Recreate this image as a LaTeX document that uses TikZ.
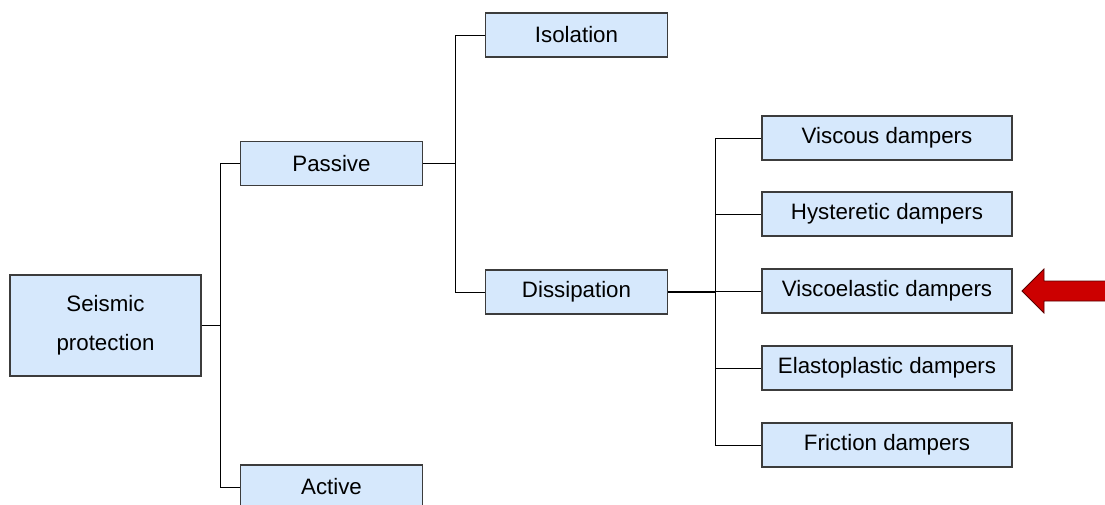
\documentclass[tikz,border=0pt]{standalone}
\usepackage{fontspec}
\setmainfont{Liberation Sans}
\definecolor{boxfill}{RGB}{214,232,252}
\definecolor{boxline}{RGB}{60,60,60}
\definecolor{arrred}{RGB}{204,0,0}
\definecolor{arrline}{RGB}{90,0,0}
\begin{document}
\begin{tikzpicture}[x=1pt,y=-1pt,
  box/.style={draw=boxline,line width=1.1pt,fill=boxfill,rectangle,inner sep=0pt,
    font=\fontsize{22.3}{39}\selectfont,align=center},
  small/.style={box,minimum width=182pt,minimum height=44pt},
  wide/.style={box,minimum width=250pt,minimum height=44pt},
  link/.style={draw=black,line width=0.9pt}]
\clip (0,0) rectangle (1105,504);
\fill[white] (0,0) rectangle (1105,504);
\node[box,minimum width=191pt,minimum height=101pt] (seis) at (105.5,325.5) {Seismic\\protection};
\node[small] (pas) at (331.5,163.5) {Passive};
\node[small] (act) at (331.5,487) {Active};
\node[small] (iso) at (576.5,35) {Isolation};
\node[small] (dis) at (576.5,292) {Dissipation};
\node[wide] (vis) at (887,138) {Viscous dampers};
\node[wide] (hys) at (887,214) {Hysteretic dampers};
\node[wide] (vel) at (887,291) {Viscoelastic dampers};
\node[wide] (ela) at (887,368) {Elastoplastic dampers};
\node[wide] (fri) at (887,445) {Friction dampers};
\coordinate (j1) at (220,325.5);
\coordinate (j2) at (455,163.5);
\coordinate (j3) at (715,292);
\draw[link] (seis.east) -- (j1);
\draw[link] (j1) |- (pas.west);
\draw[link] (j1) |- (act.west);
\draw[link] (pas.east) -- (j2);
\draw[link] (j2) |- (iso.west);
\draw[link] (j2) |- (dis.west);
\draw[link,line width=1.6pt] (dis.east) -- (j3);
\draw[link] (j3) |- (vis.west);
\draw[link] (j3) |- (hys.west);
\draw[link] (j3) |- (vel.west);
\draw[link] (j3) |- (ela.west);
\draw[link] (j3) |- (fri.west);
\coordinate (tip) at (1022,291);
\draw[fill=arrred,draw=arrline,line width=0.8pt,line join=miter]
  (tip) -- (1044,269) -- (1044,281) -- (1106,281) -- (1106,301) -- (1044,301) -- (1044,313) -- cycle;
\end{tikzpicture}
\end{document}
